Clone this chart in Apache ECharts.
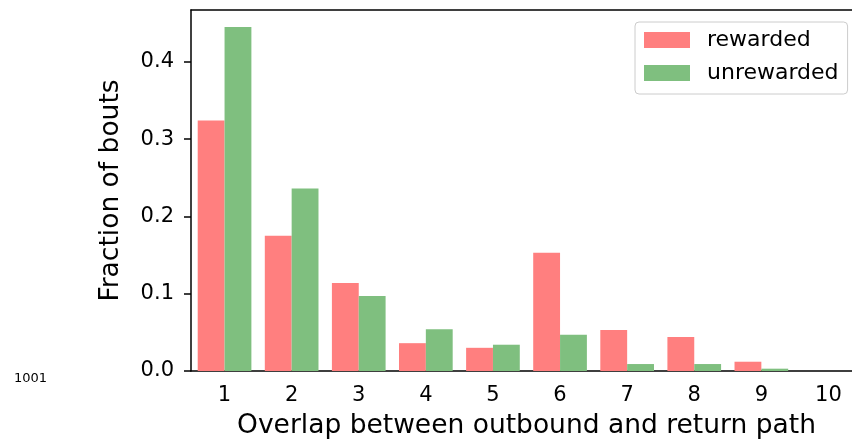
<!DOCTYPE html>
<html>
<head>
<meta charset="utf-8">
<script src="https://cdn.jsdelivr.net/npm/echarts@6/dist/echarts.min.js"></script>
<style>
  html, body { margin: 0; padding: 0; background: #ffffff; }
  #chart { width: 852px; height: 444px; }
</style>
</head>
<body>
<div id="chart"></div>
<script>
// Overlap categories (number of shared segments between outbound and return path)
const categories = ['1', '2', '3', '4', '5', '6', '7', '8', '9', '10'];
// Fraction of bouts per overlap value
const rewarded   = [0.324, 0.175, 0.114, 0.036, 0.030, 0.153, 0.053, 0.044, 0.012, 0.0];
const unrewarded = [0.445, 0.236, 0.097, 0.054, 0.034, 0.047, 0.009, 0.009, 0.003, 0.0];
// Y axis tick values
const yTicks = [0, 0.1, 0.2, 0.3, 0.4];

const FONT = 'DejaVu Sans';
const chart = echarts.init(document.getElementById('chart'), null, { renderer: 'canvas' });

chart.setOption({
  backgroundColor: '#ffffff',
  animation: false,
  grid: {
    left: 191, top: 10, width: 671, height: 361,
    outerBoundsMode: 'none',
    containLabel: false,
    show: false
  },
  legend: {
    orient: 'vertical',
    left: 635, top: 22,
    padding: [7, 9, 10, 9],
    itemGap: 11,
    itemWidth: 46, itemHeight: 16,
    icon: 'rect',
    backgroundColor: 'rgba(255,255,255,0.8)',
    borderColor: '#cccccc', borderWidth: 1, borderRadius: 4,
    textStyle: { fontFamily: FONT, fontSize: 22, color: '#000000', padding: [0, 0, 0, 12] },
    data: ['rewarded', 'unrewarded']
  },
  xAxis: [
    {
      type: 'category',
      data: categories,
      boundaryGap: true,
      name: 'Overlap between outbound and return path',
      nameLocation: 'middle',
      nameGap: 42,
      nameTextStyle: { fontFamily: FONT, fontSize: 26.5, color: '#000000' },
      axisLine: { lineStyle: { color: '#000000', width: 1.5 } },
      axisTick: { alignWithLabel: true, length: 7, lineStyle: { color: '#000000', width: 1.5 } },
      axisLabel: { fontFamily: FONT, fontSize: 21, color: '#000000', margin: 14 },
      splitLine: { show: false }
    },
    {
      // top frame line
      type: 'category',
      data: categories,
      position: 'top',
      axisLine: { show: true, lineStyle: { color: '#000000', width: 1.5 } },
      axisTick: { show: false },
      axisLabel: { show: false },
      splitLine: { show: false }
    }
  ],
  yAxis: {
    type: 'value',
    min: 0, max: 0.467, interval: 0.1,
    name: 'Fraction of bouts',
    nameLocation: 'middle',
    nameGap: 66,
    nameTextStyle: { fontFamily: FONT, fontSize: 26.5, color: '#000000' },
    axisLine: { show: true, lineStyle: { color: '#000000', width: 1.5 } },
    axisTick: { show: true, length: 7, customValues: yTicks, lineStyle: { color: '#000000', width: 1.5 } },
    axisLabel: {
      fontFamily: FONT, fontSize: 21, color: '#000000', margin: 17,
      customValues: yTicks,
      formatter: v => v.toFixed(1)
    },
    splitLine: { show: false }
  },
  series: [
    {
      name: 'rewarded', type: 'bar', data: rewarded,
      barWidth: '40%', barGap: '0%',
      itemStyle: { color: '#ff7f7f' }
    },
    {
      name: 'unrewarded', type: 'bar', data: unrewarded,
      barWidth: '40%', barGap: '0%',
      itemStyle: { color: '#7fbf7f' }
    }
  ],
  graphic: [
    {
      type: 'text', left: 14, top: 372,
      style: { text: '1001', fontFamily: FONT, fontSize: 13, fill: '#000000' }
    }
  ]
});
</script>
</body>
</html>
